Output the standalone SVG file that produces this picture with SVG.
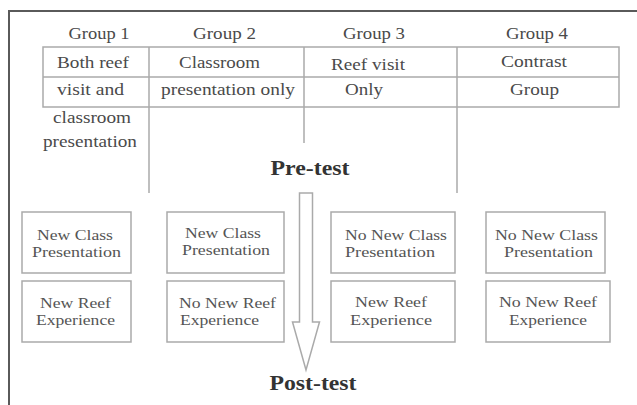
<svg xmlns="http://www.w3.org/2000/svg" width="637" height="405" viewBox="0 0 637 405">
<style>
.t{font-family:"Liberation Serif","Times New Roman",serif;fill:#4a4a4a;text-anchor:middle}
.g{font-size:17px}
.c{font-size:17px}
.b{font-size:14.5px;fill:#555}
.h{font-size:20px;font-weight:bold;fill:#333}
.tl{stroke:#aaa;stroke-width:1.5;fill:none}
.box{fill:#fff;stroke:#aaa;stroke-width:1.5}
</style>
<rect width="637" height="405" fill="#fff"/>
<g id="frame">
<path d="M9 405 V11 H637" fill="none" stroke="#5a5a5a" stroke-width="2"/>
</g>
<g id="table">
<rect x="43" y="47" width="576" height="60" class="tl"/>
<line x1="43" y1="77" x2="619" y2="77" class="tl"/>
<line x1="149" y1="47" x2="149" y2="193" class="tl"/>
<line x1="304" y1="47" x2="304" y2="143" class="tl"/>
<line x1="457" y1="47" x2="457" y2="193" class="tl"/>
<text class="t g" x="99" y="39" textLength="61" lengthAdjust="spacingAndGlyphs">Group 1</text>
<text class="t g" x="224.5" y="39" textLength="63" lengthAdjust="spacingAndGlyphs">Group 2</text>
<text class="t g" x="374" y="39" textLength="62" lengthAdjust="spacingAndGlyphs">Group 3</text>
<text class="t g" x="537" y="39" textLength="62" lengthAdjust="spacingAndGlyphs">Group 4</text>
<text class="t c" x="93" y="68" textLength="72" lengthAdjust="spacingAndGlyphs">Both reef</text>
<text class="t c" x="90.5" y="95" textLength="67" lengthAdjust="spacingAndGlyphs">visit and</text>
<text class="t c" x="92" y="123" textLength="78" lengthAdjust="spacingAndGlyphs">classroom</text>
<text class="t c" x="90" y="147" textLength="94" lengthAdjust="spacingAndGlyphs">presentation</text>
<text class="t c" x="219.5" y="68" textLength="81" lengthAdjust="spacingAndGlyphs">Classroom</text>
<text class="t c" x="228" y="95" textLength="134" lengthAdjust="spacingAndGlyphs">presentation only</text>
<text class="t c" x="368" y="70" textLength="74" lengthAdjust="spacingAndGlyphs">Reef visit</text>
<text class="t c" x="364" y="95" textLength="38" lengthAdjust="spacingAndGlyphs">Only</text>
<text class="t c" x="534" y="67" textLength="66" lengthAdjust="spacingAndGlyphs">Contrast</text>
<text class="t c" x="534.5" y="95" textLength="49" lengthAdjust="spacingAndGlyphs">Group</text>
</g>
<g id="pretest"><text class="t h" x="310" y="175" textLength="79" lengthAdjust="spacingAndGlyphs">Pre-test</text></g>
<g id="posttest"><text class="t h" x="313" y="390" textLength="87" lengthAdjust="spacingAndGlyphs">Post-test</text></g>
<g id="connectors">
<path d="M299.5 193 H312.5 V322 H319.5 L306 370 L292.5 322 H299.5 Z" fill="#fff" stroke="#aaa" stroke-width="1.5"/>
</g>
<g id="g1a"><rect class="box" x="22" y="212" width="109" height="61"/>
<text class="t b" x="75" y="240" textLength="76" lengthAdjust="spacingAndGlyphs">New Class</text><text class="t b" x="76.5" y="257" textLength="89" lengthAdjust="spacingAndGlyphs">Presentation</text></g>
<g id="g1b"><rect class="box" x="22" y="281" width="109" height="61"/>
<text class="t b" x="75.5" y="308" textLength="71" lengthAdjust="spacingAndGlyphs">New Reef</text><text class="t b" x="75.5" y="325" textLength="79" lengthAdjust="spacingAndGlyphs">Experience</text></g>
<g id="g2a"><rect class="box" x="167" y="212" width="117" height="61"/>
<text class="t b" x="223" y="238" textLength="76" lengthAdjust="spacingAndGlyphs">New Class</text><text class="t b" x="226" y="255" textLength="88" lengthAdjust="spacingAndGlyphs">Presentation</text></g>
<g id="g2b"><rect class="box" x="167" y="281" width="117" height="61"/>
<text class="t b" x="227.5" y="308" textLength="97" lengthAdjust="spacingAndGlyphs">No New Reef</text><text class="t b" x="219.5" y="325" textLength="79" lengthAdjust="spacingAndGlyphs">Experience</text></g>
<g id="g3a"><rect class="box" x="331" y="212" width="124" height="61"/>
<text class="t b" x="396" y="240" textLength="102" lengthAdjust="spacingAndGlyphs">No New Class</text><text class="t b" x="390" y="257" textLength="90" lengthAdjust="spacingAndGlyphs">Presentation</text></g>
<g id="g3b"><rect class="box" x="331" y="281" width="124" height="61"/>
<text class="t b" x="391" y="307" textLength="72" lengthAdjust="spacingAndGlyphs">New Reef</text><text class="t b" x="391" y="325" textLength="82" lengthAdjust="spacingAndGlyphs">Experience</text></g>
<g id="g4a"><rect class="box" x="486" y="212" width="119" height="61"/>
<text class="t b" x="546.5" y="240" textLength="103" lengthAdjust="spacingAndGlyphs">No New Class</text><text class="t b" x="548.5" y="257" textLength="89" lengthAdjust="spacingAndGlyphs">Presentation</text></g>
<g id="g4b"><rect class="box" x="486" y="281" width="124" height="61"/>
<text class="t b" x="548" y="307" textLength="98" lengthAdjust="spacingAndGlyphs">No New Reef</text><text class="t b" x="548" y="325" textLength="78" lengthAdjust="spacingAndGlyphs">Experience</text></g>
</svg>
